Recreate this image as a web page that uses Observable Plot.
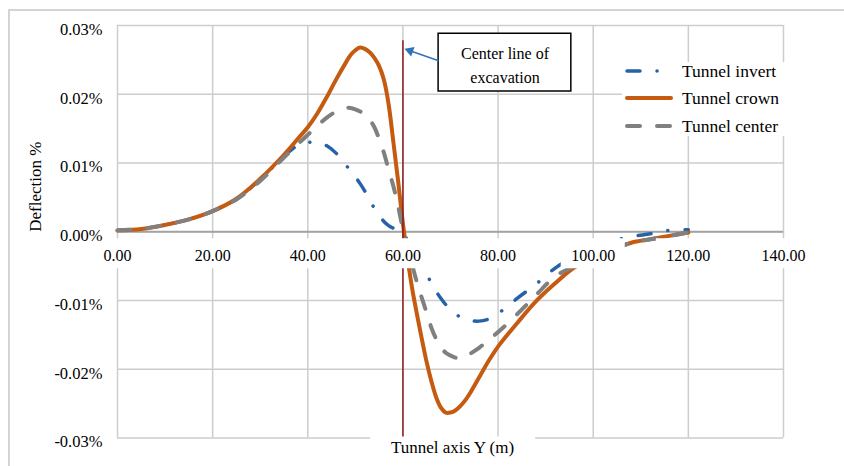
<!DOCTYPE html>
<html><head><meta charset="utf-8">
<script src="https://cdn.jsdelivr.net/npm/d3@7"></script>
<script src="https://cdn.jsdelivr.net/npm/@observablehq/plot@0.6"></script>
<style>
html,body{margin:0;padding:0;background:#fff;}
#wrap{position:relative;width:844px;height:466px;overflow:hidden;font-family:"Liberation Serif","Times New Roman",serif;}
#border{position:absolute;left:8px;top:9px;width:900px;height:500px;border:2px solid #d4d4d4;}
#chart{position:absolute;left:0;top:0;}
#legend{position:absolute;left:622px;top:62px;width:180px;height:74px;background:#fff;}
.row{position:absolute;left:0;height:20px;display:flex;align-items:center;white-space:nowrap;}
.row svg{margin-left:1px;}
.row span{margin-left:7px;font-size:17.5px;color:#000;line-height:20px;}
</style></head><body>
<div id="wrap"><div id="border"></div><div id="chart"></div><div id="legend"></div></div>
<script>
// ---- data (Y position along tunnel axis in m, deflection in %) ----
const stations = [0,5,10,15,20,25,30,35,38,40,42,44,46,48,49,50,51,52,53,54,55,56,57,58,59,60,61,62,63,64,65,66,67,68,69,70,71,72,73,74,76,78,80,84,88,92,96,100,104,108,112,116,120];
const invert = [0.0002,0.0004,0.0010,0.0018,0.0030,0.0048,0.0076,0.0110,0.0126,0.0130,0.0130,0.0125,0.0114,0.0097,0.0089,0.0080,0.0070,0.0059,0.0047,0.0034,0.0024,0.0015,0.0009,0.0005,0.0001,-0.0004,-0.0012,-0.0024,-0.0036,-0.0050,-0.0062,-0.0075,-0.0087,-0.0097,-0.0106,-0.0114,-0.0119,-0.0124,-0.0127,-0.0129,-0.0130,-0.0127,-0.0119,-0.0097,-0.0076,-0.0053,-0.0036,-0.0024,-0.0014,-0.0007,-0.0003,0.0002,0.0003];
const crown = [0.0002,0.0004,0.0010,0.0018,0.0030,0.0048,0.0077,0.0112,0.0136,0.0152,0.0172,0.0196,0.0222,0.0246,0.0257,0.0264,0.0268,0.0266,0.0261,0.0253,0.0241,0.0221,0.0185,0.0130,0.0073,0.0012,-0.0040,-0.0085,-0.0122,-0.0157,-0.0190,-0.0218,-0.0241,-0.0256,-0.0263,-0.0263,-0.0260,-0.0254,-0.0246,-0.0236,-0.0212,-0.0188,-0.0167,-0.0133,-0.0101,-0.0075,-0.0052,-0.0038,-0.0026,-0.0016,-0.0011,-0.0006,-0.0001];
const center = [0.0002,0.0004,0.0010,0.0018,0.0030,0.0047,0.0074,0.0108,0.0128,0.0141,0.0154,0.0166,0.0175,0.0180,0.0180,0.0178,0.0175,0.0171,0.0163,0.0152,0.0135,0.0115,0.0090,0.0066,0.0037,0.0003,-0.0025,-0.0050,-0.0075,-0.0097,-0.0118,-0.0140,-0.0156,-0.0168,-0.0176,-0.0180,-0.0183,-0.0184,-0.0182,-0.0178,-0.0169,-0.0157,-0.0146,-0.0120,-0.0092,-0.0065,-0.0050,-0.0037,-0.0026,-0.0016,-0.0011,-0.0006,-0.0001];
const seriesNames = ["Tunnel invert", "Tunnel crown", "Tunnel center"];
const xTicks = [0, 20, 40, 60, 80, 100, 120, 140];
const yTicks = [-0.03, -0.02, -0.01, 0, 0.01, 0.02, 0.03];
const excavationCenterY = 60;
const xTitle = "Tunnel axis Y (m)";
const yTitle = "Deflection %";
const noteText = "Center line of\nexcavation";

// ---- styles / annotation placement ----
const styles = {
  "Tunnel invert": {stroke: "#2563A6", strokeWidth: 3.5, dash: "13,17,0.1,17"},
  "Tunnel crown": {stroke: "#C55A11", strokeWidth: 4, dash: null},
  "Tunnel center": {stroke: "#808080", strokeWidth: 4, dash: "13,17"}
};
const note = {x1: 67.5, x2: 95.4, y1: 0.0288, y2: 0.0204, tx: 81.45, ty: 0.02445,
  tailX: 67.5, tailY: 0.02487, headX: 61.5, headY: 0.02633, lineTop: 0.0278};
const titleBox = {x1: 53.2, x2: 87.9};

const toRows = (vals) => stations.map((x, i) => ({x, y: vals[i]}));
const seriesData = {"Tunnel invert": toRows(invert), "Tunnel crown": toRows(crown), "Tunnel center": toRows(center)};

const lineMark = (name) => Plot.line(seriesData[name], {
  x: "x", y: "y", curve: "catmull-rom",
  stroke: styles[name].stroke, strokeWidth: styles[name].strokeWidth,
  strokeDasharray: styles[name].dash || undefined, strokeLinecap: "round", strokeLinejoin: "round"
});

const chart = Plot.plot({
  width: 844, height: 466,
  marginLeft: 117, marginRight: 61, marginTop: 25, marginBottom: 28.5,
  style: {fontFamily: "'Liberation Serif','Times New Roman',serif", fontSize: "16px", background: "transparent", color: "#000"},
  x: {domain: [0, 140], axis: null},
  y: {domain: [-0.03, 0.03], axis: null},
  marks: [
    Plot.ruleY(yTicks, {stroke: "#cdcdcd", strokeWidth: 1.5}),
    Plot.ruleX(xTicks, {stroke: "#cdcdcd", strokeWidth: 1.5}),
    Plot.ruleY([0], {stroke: "#a3a3a3", strokeWidth: 2}),
    lineMark("Tunnel invert"),
    lineMark("Tunnel crown"),
    lineMark("Tunnel center"),
    Plot.ruleX([excavationCenterY], {y1: note.lineTop, y2: -0.03, stroke: "#8B1A1A", strokeWidth: 1.5}),
    // white backgrounds behind x tick labels
    Plot.rect(xTicks, {x1: d => d, x2: d => d, y1: 0, y2: 0, insetLeft: -32, insetRight: -32, insetTop: 7, insetBottom: -37, fill: "white"}),
    Plot.text(xTicks, {x: d => d, y: 0, dy: 24, text: d => d.toFixed(2), fontSize: 16, fill: "#000"}),
    Plot.text(yTicks, {y: d => d, frameAnchor: "left", dx: -15, dy: 4, textAnchor: "end", text: d => d.toFixed(2) + "%", fontSize: 16.5, fill: "#000"}),
    // annotation
    Plot.rect([0], {x1: note.x1, x2: note.x2, y1: note.y1, y2: note.y2, fill: "white", stroke: "#000", strokeWidth: 1.5}),
    Plot.text([noteText], {x: note.tx, y: note.ty, text: d => d, fontSize: 16, lineHeight: 1.45, fill: "#000"}),
    Plot.link([0], {x1: note.tailX, y1: note.tailY, x2: note.headX, y2: note.headY, stroke: "#2E75B6", strokeWidth: 1.5}),
    Plot.dot([0], {x: note.headX, y: note.headY, symbol: "triangle", r: 3.8, rotate: -70.5, fill: "#2E75B6", stroke: null}),
    // axis titles
    Plot.rect([0], {x1: titleBox.x1, x2: titleBox.x2, y1: -0.03, y2: -0.03, insetTop: -1, insetBottom: -30, fill: "white"}),
    Plot.text([xTitle], {frameAnchor: "bottom", dx: 2, dy: 15, text: d => d, fontSize: 17, fill: "#000"}),
    Plot.text([yTitle], {frameAnchor: "left", dx: -82, rotate: -90, text: d => d, fontSize: 17, fill: "#000"})
  ]
});
document.getElementById("chart").appendChild(chart);

// legend
const legend = d3.select("#legend");
const rowTops = [-1, 26, 54];
seriesNames.forEach((name, i) => {
  const row = legend.append("div").attr("class", "row").style("top", rowTops[i] + "px");
  const svg = row.append("svg").attr("width", 52).attr("height", 12);
  svg.append("line").attr("x1", 4).attr("x2", 48).attr("y1", 6).attr("y2", 6)
    .attr("stroke", styles[name].stroke).attr("stroke-width", styles[name].strokeWidth)
    .attr("stroke-linecap", "round").attr("stroke-dasharray", styles[name].dash);
  row.append("span").text(name);
});
</script>
</body></html>
